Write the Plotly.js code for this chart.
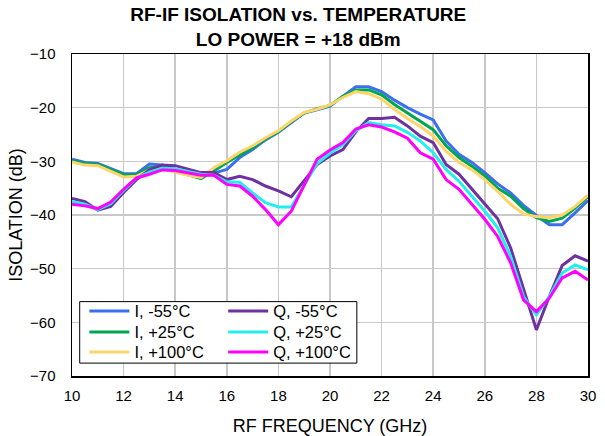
<!DOCTYPE html>
<html>
<head>
<meta charset="utf-8">
<script src="https://cdn.plot.ly/plotly-3.0.1.min.js"></script>
<style>html,body{margin:0;padding:0;background:#fff;}#chart{width:605px;height:436px;}</style>
</head>
<body>
<div id="chart"></div>
<script>
const freqGHz = [10,10.5,11,11.5,12,12.5,13,13.5,14,14.5,15,15.5,16,16.5,17,17.5,18,18.5,19,19.5,20,20.5,21,21.5,22,22.5,23,23.5,24,24.5,25,25.5,26,26.5,27,27.5,28,28.5,29,29.5,30];

const iMinus55 = [-29.6,-30.2,-30.4,-31.4,-32.3,-32.3,-30.5,-30.7,-31.5,-32.3,-32.7,-32.2,-31.5,-29.3,-27.8,-26.0,-24.6,-22.8,-21.0,-20.4,-19.7,-17.9,-16.1,-16.1,-17.0,-18.6,-20.0,-21.2,-22.3,-26.2,-28.7,-30.2,-32.1,-34.2,-35.9,-38.2,-40.1,-41.8,-41.8,-39.6,-37.3];
const iPlus25 = [-29.9,-30.4,-30.6,-31.6,-32.5,-32.5,-31.2,-31.0,-31.7,-32.5,-33.2,-31.8,-30.2,-28.8,-27.5,-25.8,-24.5,-22.6,-21.0,-20.2,-19.6,-17.9,-16.7,-16.7,-17.6,-19.4,-21.0,-22.6,-24.1,-27.1,-29.3,-30.9,-32.7,-35.0,-36.5,-38.8,-40.5,-41.2,-40.6,-38.7,-36.6];
const iPlus100 = [-30.1,-30.7,-30.8,-31.9,-32.9,-32.8,-31.6,-31.4,-32.0,-32.6,-33.0,-31.2,-29.9,-28.3,-27.1,-25.6,-24.3,-22.5,-20.9,-20.3,-19.5,-18.1,-17.0,-17.4,-18.4,-20.3,-22.0,-23.5,-25.3,-28.1,-30.2,-31.6,-33.4,-35.6,-38.0,-39.8,-40.3,-40.5,-40.0,-38.4,-36.3];
const qMinus55 = [-36.9,-37.5,-39.1,-38.4,-35.8,-33.4,-31.6,-30.7,-30.8,-31.4,-32.1,-32.1,-33.4,-32.8,-33.4,-34.6,-35.5,-36.6,-33.5,-30.6,-29.0,-27.8,-24.5,-22.0,-22.0,-21.8,-23.4,-25.3,-26.5,-30.6,-32.4,-35.2,-38.0,-40.7,-46.1,-53.9,-61.4,-55.2,-49.4,-47.6,-48.6];
const qPlus25 = [-37.5,-38.0,-39.0,-37.9,-35.4,-33.1,-32.0,-31.3,-31.4,-31.9,-32.4,-32.6,-33.8,-33.9,-35.9,-37.7,-38.5,-38.5,-34.5,-30.4,-28.5,-26.9,-24.3,-22.8,-23.2,-23.4,-24.6,-26.2,-28.4,-31.5,-33.7,-36.5,-39.3,-42.4,-47.7,-55.2,-58.6,-55.2,-50.8,-49.3,-50.2];
const qPlus100 = [-38.0,-38.3,-38.8,-37.6,-35.2,-33.1,-32.4,-31.6,-31.7,-32.2,-32.6,-32.6,-34.3,-34.6,-36.5,-39.0,-41.8,-39.3,-34.3,-29.6,-27.9,-26.5,-24.0,-23.2,-23.6,-24.5,-25.7,-28.4,-29.6,-33.4,-35.2,-38.0,-40.8,-44.0,-48.9,-55.8,-58.0,-55.5,-51.7,-50.5,-52.1];

const seriesNames = ["I, -55°C","I, +25°C","I, +100°C","Q, -55°C","Q, +25°C","Q, +100°C"];
const seriesColors = ["#3b6ff0","#00a651","#ffd56b","#7030a0","#22eeee","#ff00ff"];
const seriesValues = [iMinus55,iPlus25,iPlus100,qMinus55,qPlus25,qPlus100];

const titleText = "RF-IF ISOLATION vs. TEMPERATURE<br>LO POWER = +18 dBm";
const xTitle = "RF FREQUENCY (GHz)";
const yTitle = "ISOLATION (dB)";
const xTicks = [10,12,14,16,18,20,22,24,26,28,30];
const yTicks = [-10,-20,-30,-40,-50,-60,-70];

const FONT = "'Liberation Sans', Arial, Helvetica, sans-serif";

// one legend per entry so the 2-column, 3-row box can be laid out like the reference
const legendIds = ["legend","legend2","legend3","legend4","legend5","legend6"];
const legendCol = [0, 0, 0, 1, 1, 1];
const legendRow = [0, 1, 2, 0, 1, 2];
const colX = [0.024, 0.293];
const rowY = [0.2553, 0.1900, 0.1280];

const traces = seriesValues.map((vals, i) => ({
  type: "scatter",
  mode: "lines",
  x: freqGHz,
  y: vals,
  name: seriesNames[i],
  legend: legendIds[i],
  line: {color: seriesColors[i], width: 3}
}));

const layout = {
  width: 605, height: 436,
  margin: {l: 72, r: 17, t: 54, b: 60, pad: 0},
  paper_bgcolor: "#fff", plot_bgcolor: "#fff",
  showlegend: true,
  font: {family: FONT, color: "#000"},
  title: {
    text: titleText,
    font: {family: FONT, size: 19, weight: "bold", color: "#000"},
    x: 0.493, xref: "container", xanchor: "center",
    y: 0.951, yref: "container", yanchor: "top"
  },
  xaxis: {
    range: [10, 30],
    tickvals: xTicks,
    ticks: "",
    ticklabelstandoff: 5,
    tickfont: {family: FONT, size: 15, color: "#000"},
    showgrid: true, gridcolor: "#c8c8c8", gridwidth: 1.5,
    zeroline: false,
    showline: true, linecolor: "#000", linewidth: 1.5, mirror: true,
    title: {text: xTitle, font: {family: FONT, size: 18, color: "#000"}, standoff: 19}
  },
  yaxis: {
    range: [-70, -10],
    tickvals: yTicks,
    ticks: "",
    ticklabelstandoff: 12,
    tickfont: {family: FONT, size: 15, color: "#000"},
    showgrid: true, gridcolor: "#c8c8c8", gridwidth: 1.5,
    zeroline: false,
    showline: true, linecolor: "#000", linewidth: 1.5, mirror: true,
    title: {text: yTitle, font: {family: FONT, size: 18, color: "#000"}, standoff: 2}
  },
  shapes: [{
    type: "rect", xref: "paper", yref: "paper",
    x0: 0.0149, x1: 0.552, y0: 0.040, y1: 0.231,
    fillcolor: "#fff", line: {color: "#000", width: 1}, layer: "above"
  }]
};

legendIds.forEach((id, i) => {
  layout[id] = {
    x: colX[legendCol[i]], y: rowY[legendRow[i]],
    xanchor: "left", yanchor: "top",
    bgcolor: "rgba(0,0,0,0)", borderwidth: 0,
    font: {family: FONT, size: 16.5, color: "#000"},
    tracegroupgap: 0, itemwidth: 40
  };
});

Plotly.newPlot("chart", traces, layout, {staticPlot: true, displayModeBar: false});
</script>
</body>
</html>
